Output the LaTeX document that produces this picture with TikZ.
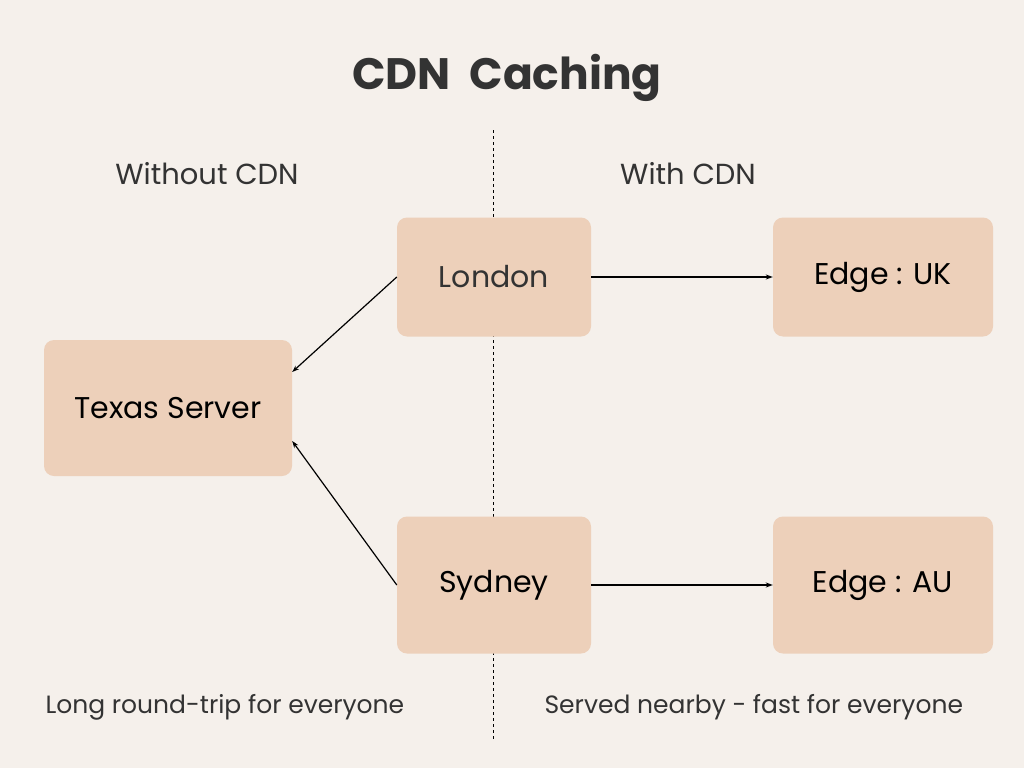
\documentclass[tikz,border=0pt]{standalone}
\usepackage{fontspec}
\setmainfont{Poppins}
\usetikzlibrary{arrows.meta}
\definecolor{paper}{HTML}{F5F0EB}
\definecolor{boxfill}{HTML}{EDD0BA}
\definecolor{ink}{HTML}{333333}
\begin{document}
\begin{tikzpicture}[x=1pt, y=-1pt, >={Stealth[length=7pt,width=5pt]}]
  \tikzstyle{city} = [fill=boxfill, rounded corners=10pt, inner sep=0pt, text=black, font=\fontsize{30}{34}\selectfont]
  \tikzstyle{caption} = [text=ink, font=\fontsize{25}{30}\selectfont]
  \tikzstyle{link} = [->, line width=1.2pt, black]
  \fill [paper] (0,0) rectangle (1024,768);
  \useasboundingbox (0,0) rectangle (1024,768);
  \draw [dashed, line width=1pt, dash pattern=on 3pt off 3pt] (493,130) -- (493,740);
  \node [text=ink, font=\fontsize{44}{52}\selectfont\bfseries] (title) at (507,78) {CDN\ \ Caching};
  \node [caption, font=\fontsize{29}{34}\selectfont] (without) at (207,174) {Without CDN};
  \node [caption, font=\fontsize{29}{34}\selectfont] (with) at (688,174) {With CDN};
  \node [city, text=ink, minimum width=194pt, minimum height=119pt] (london) at (494,277) {London};
  \node [city, minimum width=194pt, minimum height=137pt] (sydney) at (494,585) {Sydney};
  \node [city, minimum width=248pt, minimum height=136pt] (texas) at (168,408) {Texas Server};
  \node [city, minimum width=220pt, minimum height=119pt] (uk) at (883,277) {Edge : UK};
  \node [city, minimum width=220pt, minimum height=137pt] (au) at (883,585) {Edge : AU};
  \node [caption, anchor=west] (slow) at (42,707) {Long round-trip for everyone};
  \node [caption, anchor=west] (fast) at (541,707) {Served nearby - fast for everyone};
  \draw [link] (london.west) -- (texas.east |- 0,372);
  \draw [link] (sydney.west) -- (texas.east |- 0,441);
  \draw [link] (london.east) -- (uk.west);
  \draw [link] (sydney.east) -- (au.west);
\end{tikzpicture}
\end{document}
